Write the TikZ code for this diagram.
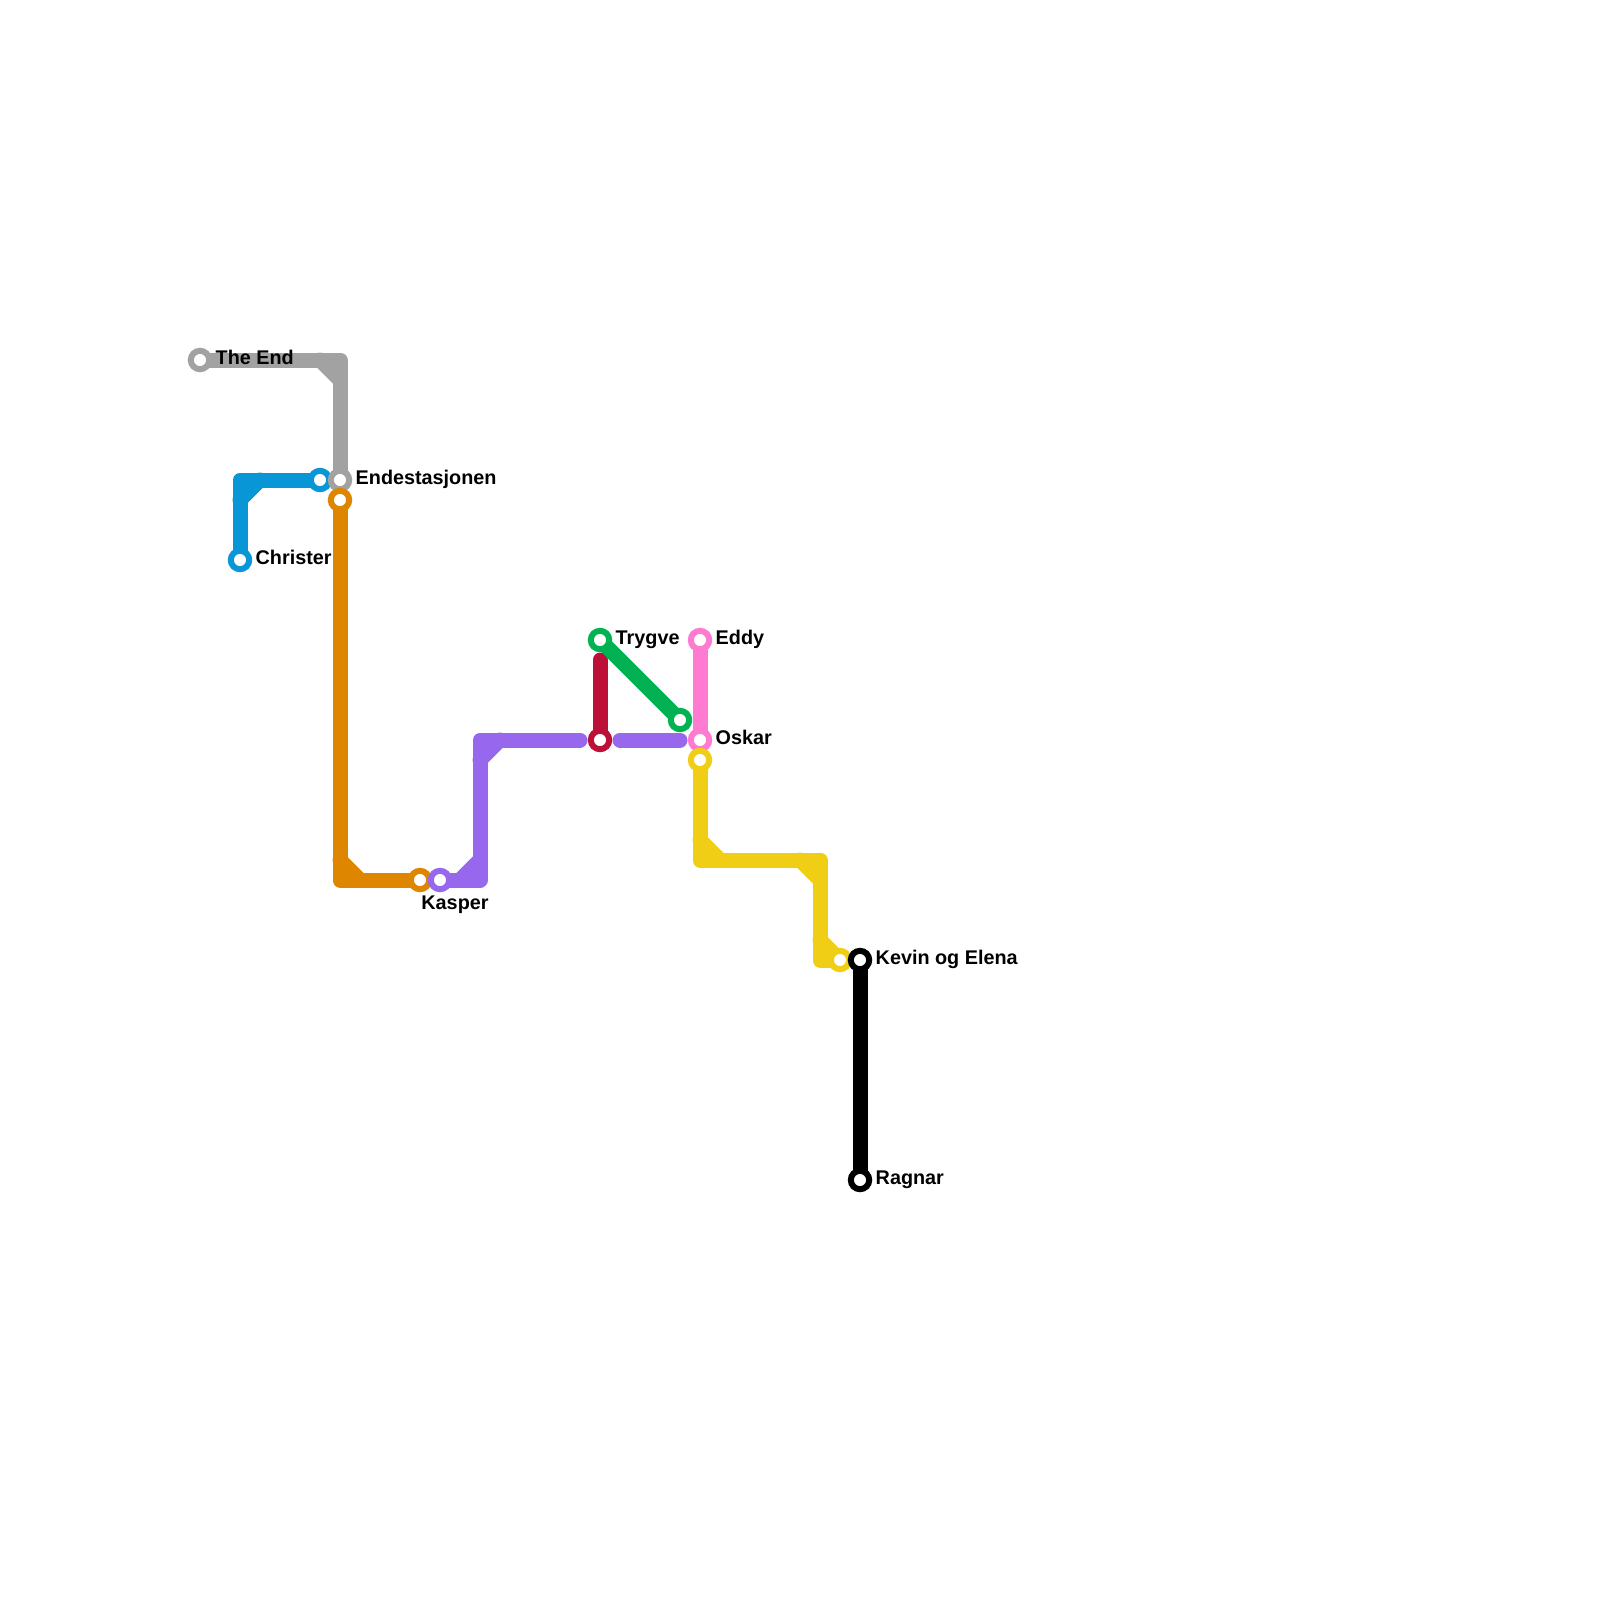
\documentclass[tikz,border=0pt]{standalone}
\usepackage{fontspec}
\setmainfont{Liberation Sans}
\usetikzlibrary{backgrounds}
\definecolor{cgrey}{HTML}{A2A2A2}
\definecolor{cblue}{HTML}{0896D7}
\definecolor{corange}{HTML}{DF8600}
\definecolor{cpurple}{HTML}{9768EE}
\definecolor{cred}{HTML}{BD1038}
\definecolor{cgreen}{HTML}{00B251}
\definecolor{cpink}{HTML}{FF7AD1}
\definecolor{cyellow}{HTML}{F0CE15}
\tikzset{
  stn/.style={circle,draw=#1,fill=white,line width=6pt,minimum size=18.4pt,inner sep=0pt},
  metro/.style={draw=#1,line width=15pt,line cap=round,line join=round},
  lbl/.style={font=\fontsize{19.8pt}{22pt}\selectfont\bfseries,text=black,inner sep=0pt,anchor=base west},
  lblc/.style={font=\fontsize{19.8pt}{22pt}\selectfont\bfseries,text=black,inner sep=0pt,anchor=base}
}
\begin{document}
\begin{tikzpicture}[x=1pt,y=-1pt]
\useasboundingbox (0,0) rectangle (1600,1600);
% stations
\node[stn=cblue] (blueend) at (320,480) {};
\node[stn=cblue] (christer) at (240,560) {};
\node[stn=cgrey] (theend) at (200,360) {};
\node[stn=cgrey] (endest) at (340,480) {};
\node[stn=corange] (orangetop) at (340,500) {};
\node[stn=corange] (orangeend) at (420,880) {};
\node[stn=cpurple] (kasper) at (440,880) {};
\node[stn=cred] (redend) at (600,740) {};
\node[stn=cgreen] (trygve) at (600,640) {};
\node[stn=cgreen] (greenend) at (680,720) {};
\node[stn=cpink] (eddy) at (700,640) {};
\node[stn=cpink] (oskar) at (700,740) {};
\node[stn=cyellow] (yellowtop) at (700,760) {};
\node[stn=cyellow] (yellowend) at (840,960) {};
\node[stn=black] (kevin) at (860,960) {};
\node[stn=black] (ragnar) at (860,1180) {};
% free points
\coordinate (g1) at (340,360); \coordinate (g2) at (320,360); \coordinate (g3) at (340,380);
\coordinate (b1) at (240,480); \coordinate (b2) at (260,480); \coordinate (b3) at (240,500);
\coordinate (o1) at (340,880); \coordinate (o2) at (340,860); \coordinate (o3) at (360,880);
\coordinate (p1) at (480,880); \coordinate (p2) at (460,880); \coordinate (p3) at (480,860);
\coordinate (p4) at (480,740); \coordinate (p5) at (480,760); \coordinate (p6) at (500,740);
\coordinate (p7) at (580,740); \coordinate (p8) at (620,740); \coordinate (p9) at (680,740);
\coordinate (r1) at (600,660);
\coordinate (y1) at (700,860); \coordinate (y2) at (700,840); \coordinate (y3) at (720,860);
\coordinate (y4) at (820,860); \coordinate (y5) at (800,860); \coordinate (y6) at (820,880);
\coordinate (y7) at (820,960); \coordinate (y8) at (820,940);
% connectors
\begin{scope}[on background layer]
\fill[white] (0,0) rectangle (1600,1600);
\path[metro=cblue] (blueend.center) -- (b1) -- (christer.center);
\path[metro=cblue] (b2) -- (b3);
\path[metro=cgrey] (theend.center) -- (g1) -- (endest.center);
\path[metro=cgrey] (g2) -- (g3);
\path[metro=corange] (orangetop.center) -- (o1) -- (orangeend.center);
\path[metro=corange] (o2) -- (o3);
\path[metro=cpurple] (kasper.center) -- (p1) -- (p4) -- (p7);
\path[metro=cpurple] (p2) -- (p3);
\path[metro=cpurple] (p5) -- (p6);
\path[metro=cpurple] (p8) -- (p9);
\path[metro=cred] (redend.center) -- (r1);
\path[metro=cpink] (eddy.center) -- (oskar.center);
\path[metro=cgreen] (trygve.center) -- (greenend.center);
\path[metro=cyellow] (yellowtop.center) -- (y1) -- (y4) -- (y7) -- (yellowend.center);
\path[metro=cyellow] (y2) -- (y3);
\path[metro=cyellow] (y5) -- (y6);
\path[metro=cyellow] (y8) -- (yellowend.center);
\path[metro=black] (kevin.center) -- (ragnar.center);
\end{scope}
% labels
\node[lbl] (ltheend) at (215.5,364) {The End};
\node[lbl] (lendest) at (355.5,484) {Endestasjonen};
\node[lbl] (lchrister) at (255.5,564) {Christer};
\node[lblc] (lkasper) at (455,909) {Kasper};
\node[lbl] (ltrygve) at (615.5,644) {Trygve};
\node[lbl] (leddy) at (715.5,644) {Eddy};
\node[lbl] (loskar) at (715.5,744) {Oskar};
\node[lbl] (lkevin) at (875.5,964) {Kevin og Elena};
\node[lbl] (lragnar) at (875.5,1184) {Ragnar};
\end{tikzpicture}
\end{document}
